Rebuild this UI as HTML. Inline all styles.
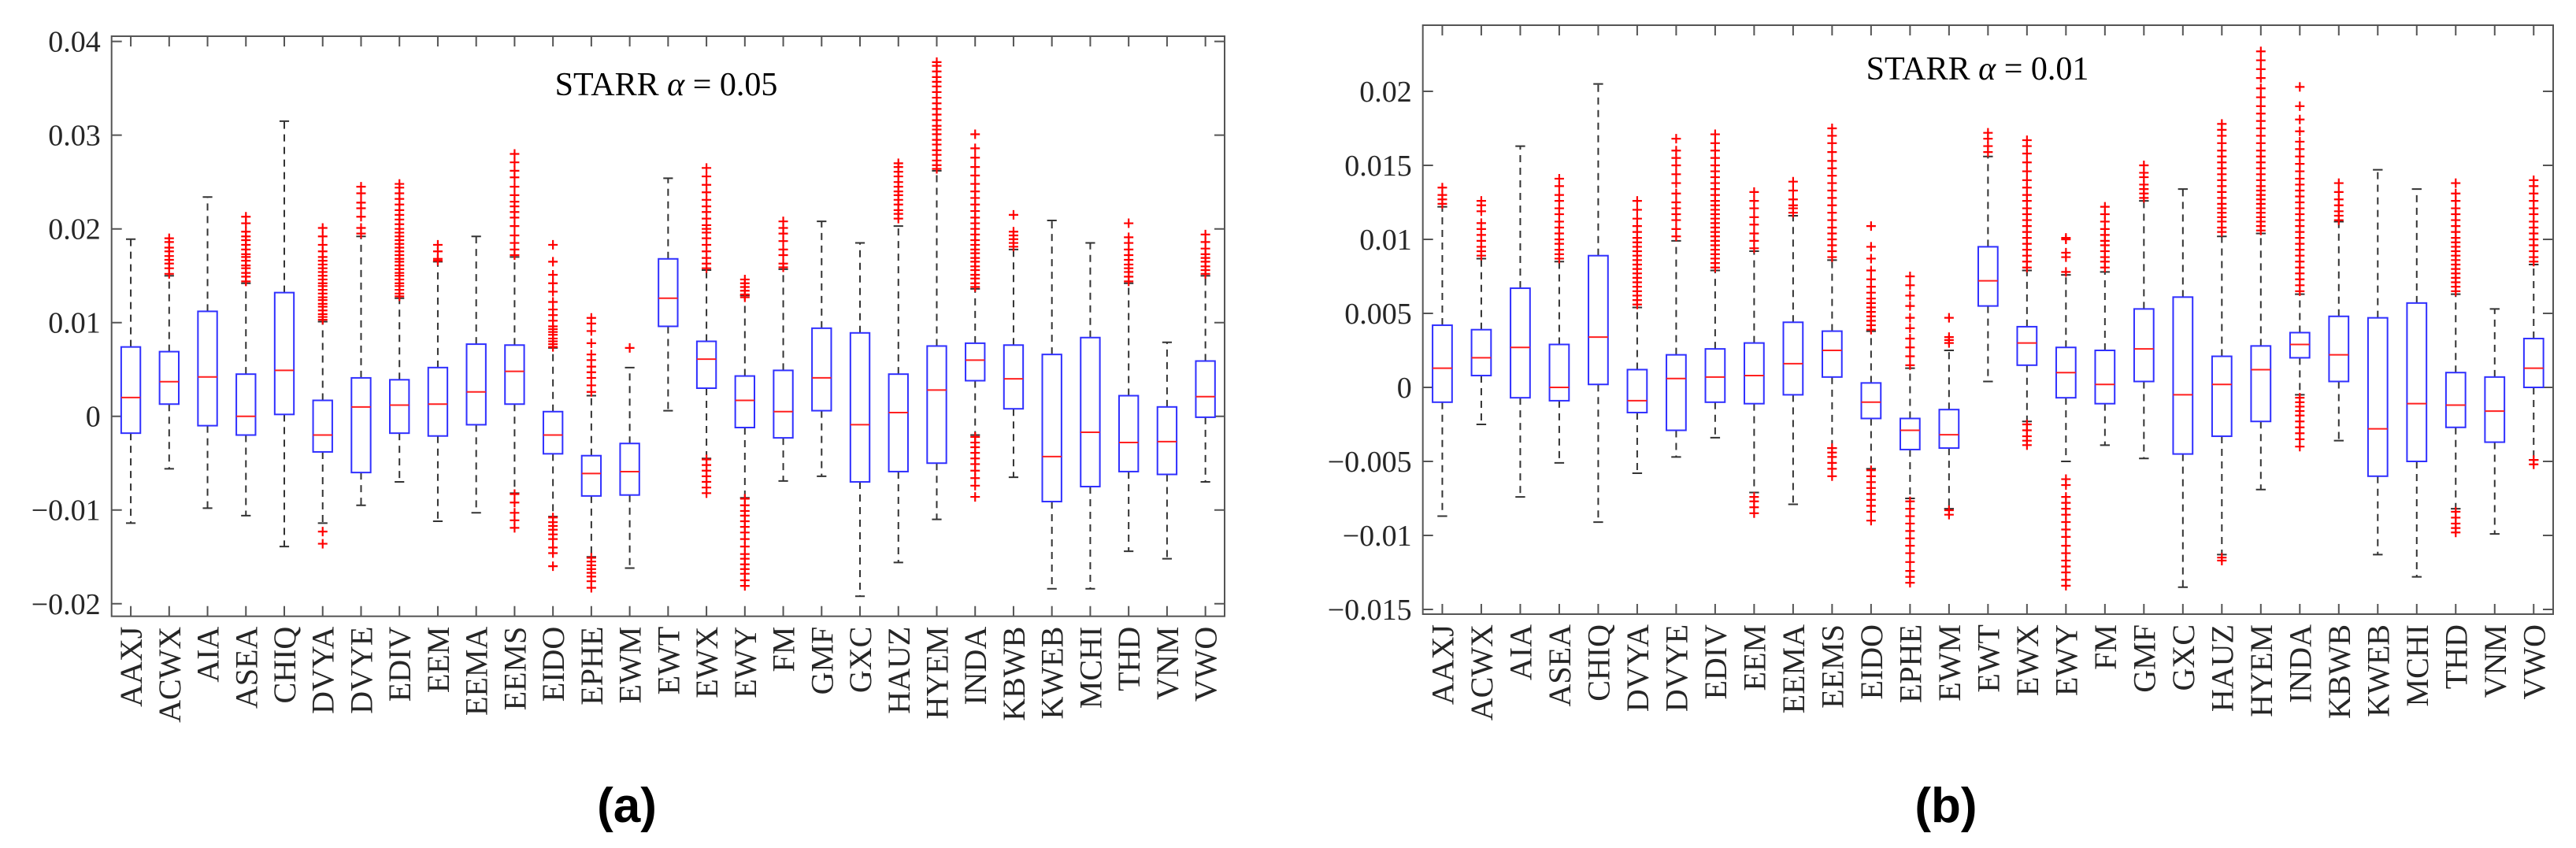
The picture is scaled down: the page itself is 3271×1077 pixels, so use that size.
<!DOCTYPE html>
<html><head><meta charset="utf-8"><style>
html,body{margin:0;padding:0;background:#fff;}
svg{display:block;}
text{font-family:"Liberation Serif",serif;fill:#262626;}
</style></head><body>
<svg id="fig" width="3271" height="1077" viewBox="0 0 3271 1077" xmlns="http://www.w3.org/2000/svg">
<g id="pa"></g>
<g id="pb"></g>
<text x="796" y="1044" font-size="62" font-weight="bold" text-anchor="middle" style="font-family:'Liberation Sans',sans-serif;fill:#000">(a)</text>
<text x="2471" y="1044" font-size="62" font-weight="bold" text-anchor="middle" style="font-family:'Liberation Sans',sans-serif;fill:#000">(b)</text>
</svg>
<script>
const categories=["AAXJ","ACWX","AIA","ASEA","CHIQ","DVYA","DVYE","EDIV","EEM","EEMA","EEMS","EIDO","EPHE","EWM","EWT","EWX","EWY","FM","GMF","GXC","HAUZ","HYEM","INDA","KBWB","KWEB","MCHI","THD","VNM","VWO"];
// Panel A (alpha=0.05)
const aQ1=[-0.0018,0.0013,-0.001,-0.002,0.0002,-0.0038,-0.006,-0.0018,-0.0021,-0.0009,0.0013,-0.004,-0.0085,-0.0084,0.0096,0.003,-0.0012,-0.0023,0.0006,-0.007,-0.0059,-0.005,0.0038,0.0008,-0.0091,-0.0075,-0.0059,-0.0062,-0.0001];
const aMed=[0.002,0.0037,0.0042,0,0.0049,-0.002,0.001,0.0012,0.0013,0.0026,0.0048,-0.002,-0.0061,-0.0059,0.0126,0.0061,0.0017,0.0005,0.0041,-0.0009,0.0004,0.0028,0.006,0.004,-0.0043,-0.0017,-0.0028,-0.0027,0.0021];
const aQ3=[0.0074,0.0069,0.0112,0.0045,0.0132,0.0017,0.0041,0.0039,0.0052,0.0077,0.0076,0.0005,-0.0042,-0.0029,0.0168,0.008,0.0043,0.0049,0.0094,0.0089,0.0045,0.0075,0.0078,0.0076,0.0066,0.0084,0.0022,0.001,0.0059];
const aLo=[-0.0114,-0.0056,-0.0098,-0.0106,-0.0139,-0.0114,-0.0095,-0.007,-0.0112,-0.0103,-0.0082,-0.0107,-0.015,-0.0162,0.0006,-0.0045,-0.0087,-0.0069,-0.0064,-0.0192,-0.0156,-0.011,-0.002,-0.0065,-0.0184,-0.0184,-0.0144,-0.0152,-0.007];
const aHi=[0.0189,0.015,0.0234,0.0142,0.0315,0.0101,0.0192,0.0126,0.0165,0.0192,0.017,0.0073,0.0022,0.0052,0.0254,0.0156,0.0129,0.0157,0.0208,0.0185,0.0203,0.0262,0.0136,0.0178,0.0209,0.0185,0.0142,0.0079,0.015];
const aOut=[[],[0.0152,0.0158,0.0163,0.0167,0.0171,0.0176,0.018,0.0186,0.019],[],[0.0144,0.0149,0.0153,0.0158,0.0161,0.0166,0.017,0.0173,0.0178,0.0183,0.0188,0.0192,0.0197,0.0206,0.0213],[],[0.0103,0.0106,0.0109,0.0113,0.0117,0.012,0.0124,0.0127,0.0131,0.0135,0.0139,0.0142,0.0146,0.015,0.0154,0.0158,0.0162,0.0166,0.017,0.0176,0.0183,0.0192,0.0201,-0.0123,-0.0136],[0.0195,0.0201,0.0213,0.0222,0.0228,0.0238,0.0245],[0.0128,0.0131,0.0135,0.0139,0.0142,0.0146,0.015,0.0153,0.0157,0.0161,0.0165,0.0168,0.0172,0.0176,0.018,0.0184,0.0188,0.0192,0.0196,0.02,0.0205,0.021,0.0215,0.022,0.0226,0.0232,0.0238,0.0244,0.0248],[0.0166,0.0168,0.0176,0.0183],[],[0.0172,0.0178,0.0185,0.0193,0.0203,0.0212,0.0218,0.0224,0.0229,0.0236,0.0245,0.0255,0.0262,0.0271,0.028,-0.0083,-0.0092,-0.0103,-0.0111,-0.0119],[0.0074,0.0077,0.008,0.0083,0.0087,0.009,0.0093,0.0096,0.0102,0.0108,0.0114,0.0122,0.0133,0.0142,0.0151,0.0165,0.0183,-0.0108,-0.0113,-0.0117,-0.0121,-0.0126,-0.0131,-0.014,-0.0146,-0.016],[0.0026,0.0033,0.0041,0.0047,0.0053,0.006,0.0066,0.0078,0.0091,0.0099,0.0105,-0.0151,-0.0155,-0.0159,-0.0163,-0.0167,-0.0171,-0.0176,-0.0183],[0.0073],[],[0.0158,0.0163,0.0169,0.0176,0.0183,0.019,0.0196,0.02,0.0204,0.0211,0.0218,0.0224,0.0231,0.0239,0.0247,0.0256,0.0265,-0.0046,-0.0052,-0.0058,-0.0064,-0.007,-0.0076,-0.0082],[0.0127,0.013,0.0134,0.0138,0.0142,0.0146,-0.0088,-0.0095,-0.0101,-0.0106,-0.0112,-0.0118,-0.0124,-0.0131,-0.0139,-0.0147,-0.0152,-0.0158,-0.0163,-0.0168,-0.0175,-0.0181],[0.0159,0.0163,0.0172,0.0178,0.0187,0.0195,0.0201,0.0208],[],[],[0.0211,0.0216,0.022,0.0226,0.0231,0.0236,0.024,0.0245,0.025,0.0256,0.0261,0.0266,0.027],[0.0264,0.0268,0.0273,0.0279,0.0284,0.029,0.0295,0.0301,0.0306,0.031,0.0316,0.0322,0.0328,0.0334,0.034,0.0346,0.0352,0.0357,0.0362,0.0368,0.0374,0.0378],[0.0138,0.0142,0.0147,0.0151,0.0156,0.016,0.0165,0.0169,0.0174,0.0178,0.0183,0.0188,0.0194,0.02,0.0206,0.0212,0.0219,0.0226,0.0233,0.024,0.0248,0.0257,0.0266,0.0276,0.0286,0.0301,-0.0022,-0.0028,-0.0033,-0.0039,-0.0045,-0.0051,-0.0058,-0.0066,-0.0074,-0.0086],[0.0181,0.0185,0.0189,0.0193,0.0197,0.0215],[],[],[0.0144,0.0149,0.0154,0.0158,0.0162,0.0167,0.0172,0.0178,0.0185,0.0191,0.0206],[],[0.0152,0.0156,0.016,0.0165,0.0169,0.0173,0.0179,0.0186,0.0194]];
// Panel B (alpha=0.01)
const bQ1=[-0.001,0.0008,-0.0007,-0.0009,0.0002,-0.0017,-0.0029,-0.001,-0.0011,-0.0005,0.0007,-0.0021,-0.0042,-0.0041,0.0055,0.0015,-0.0007,-0.0011,0.0004,-0.0045,-0.0033,-0.0023,0.002,0.0004,-0.006,-0.005,-0.0027,-0.0037,0];
const bMed=[0.0013,0.002,0.0027,0,0.0034,-0.0009,0.0006,0.0007,0.0008,0.0016,0.0025,-0.001,-0.0029,-0.0032,0.0072,0.003,0.001,0.0002,0.0026,-0.0005,0.0002,0.0012,0.0029,0.0022,-0.0028,-0.0011,-0.0012,-0.0016,0.0013];
const bQ3=[0.0042,0.0039,0.0067,0.0029,0.0089,0.0012,0.0022,0.0026,0.003,0.0044,0.0038,0.0003,-0.0021,-0.0015,0.0095,0.0041,0.0027,0.0025,0.0053,0.0061,0.0021,0.0028,0.0037,0.0048,0.0047,0.0057,0.001,0.0007,0.0033];
const bLo=[-0.0087,-0.0025,-0.0074,-0.0051,-0.0091,-0.0058,-0.0047,-0.0034,-0.0071,-0.0079,-0.0041,-0.0055,-0.0075,-0.0082,0.0004,-0.0023,-0.005,-0.0039,-0.0048,-0.0135,-0.0113,-0.0069,-0.0005,-0.0036,-0.0113,-0.0128,-0.0082,-0.0099,-0.0049];
const bHi=[0.0122,0.0087,0.0163,0.0085,0.0205,0.0054,0.0099,0.0079,0.0092,0.0116,0.0086,0.0038,0.0013,0.0025,0.0156,0.0079,0.0076,0.0078,0.0126,0.0134,0.0102,0.0104,0.0063,0.0112,0.0147,0.0134,0.0063,0.0053,0.0083];
const bOut=[[0.0124,0.0127,0.013,0.0135],[0.0089,0.0092,0.0095,0.0099,0.0103,0.0107,0.0111,0.0119,0.0123,0.0126],[],[0.0087,0.009,0.0093,0.0097,0.01,0.0104,0.0108,0.0112,0.0117,0.0121,0.0126,0.013,0.0136,0.0141],[],[0.0056,0.0059,0.0062,0.0065,0.0068,0.0071,0.0074,0.0077,0.008,0.0083,0.0086,0.0089,0.0092,0.0095,0.0098,0.0101,0.0105,0.0109,0.0114,0.012,0.0126],[0.0102,0.0107,0.0113,0.0117,0.0121,0.0125,0.0131,0.0138,0.0144,0.015,0.0155,0.016,0.0168],[0.0081,0.0084,0.0087,0.009,0.0093,0.0096,0.0099,0.0102,0.0105,0.0108,0.0111,0.0114,0.0117,0.012,0.0123,0.0126,0.013,0.0134,0.0138,0.0142,0.0146,0.015,0.0155,0.016,0.0165,0.0171],[0.0094,0.0099,0.0104,0.011,0.0115,0.0121,0.0126,0.0132,-0.0074,-0.0077,-0.0081,-0.0085],[0.0118,0.0121,0.0123,0.0127,0.0133,0.0139],[0.0088,0.0092,0.0096,0.01,0.0104,0.0108,0.0113,0.0118,0.0123,0.0128,0.0133,0.0138,0.0143,0.0148,0.0153,0.0159,0.0165,0.017,0.0175,-0.0041,-0.0044,-0.0047,-0.0051,-0.0055,-0.006],[0.0039,0.0042,0.0045,0.0048,0.0051,0.0054,0.0057,0.006,0.0064,0.0068,0.0073,0.0079,0.0087,0.0095,0.0109,-0.0056,-0.006,-0.0064,-0.0068,-0.0072,-0.0076,-0.008,-0.0084,-0.009],[0.0015,0.0021,0.0027,0.0033,0.004,0.0047,0.0055,0.0062,0.0069,0.0075,-0.0077,-0.0082,-0.0087,-0.0092,-0.0097,-0.0102,-0.0107,-0.0112,-0.0118,-0.0124,-0.0128,-0.0132],[0.003,0.0032,0.0034,0.0047,-0.0083,-0.0086],[0.0159,0.0163,0.0168,0.0172],[0.0081,0.0085,0.0089,0.0093,0.0097,0.0101,0.0105,0.0109,0.0113,0.0117,0.0121,0.0126,0.013,0.0135,0.014,0.0146,0.0152,0.0158,0.0163,0.0167,-0.0025,-0.0029,-0.0033,-0.0036,-0.0039],[0.0078,0.0088,0.0091,0.01,0.0101,-0.0062,-0.0066,-0.0074,-0.0078,-0.0082,-0.0086,-0.0091,-0.0096,-0.0101,-0.0107,-0.0112,-0.0117,-0.0121,-0.0125,-0.013,-0.0134],[0.0081,0.0085,0.0088,0.0092,0.0096,0.0099,0.0103,0.0107,0.0112,0.0117,0.0122],[0.0128,0.0131,0.0134,0.0137,0.0142,0.0145,0.015],[],[0.0105,0.0108,0.0112,0.0115,0.0118,0.0121,0.0124,0.0128,0.0132,0.0136,0.014,0.0144,0.0148,0.0152,0.0156,0.016,0.0165,0.017,0.0174,0.0178,-0.0115,-0.0117],[0.0106,0.0109,0.0112,0.0115,0.0118,0.0121,0.0124,0.0127,0.013,0.0133,0.0136,0.014,0.0144,0.0148,0.0152,0.0156,0.016,0.0165,0.017,0.0175,0.018,0.0185,0.019,0.0196,0.0202,0.0209,0.0215,0.0221,0.0227],[0.0065,0.0069,0.0073,0.0077,0.0081,0.0085,0.0089,0.0093,0.0097,0.0101,0.0105,0.0109,0.0113,0.0117,0.0121,0.0125,0.0129,0.0133,0.0137,0.0141,0.0146,0.0151,0.0156,0.0161,0.0166,0.0173,0.0181,0.019,0.0203,-0.0007,-0.001,-0.0013,-0.0016,-0.0019,-0.0023,-0.0027,-0.0031,-0.0035,-0.004],[0.0113,0.0116,0.0119,0.0123,0.0127,0.0132,0.0138],[],[],[0.0065,0.0068,0.0071,0.0074,0.0077,0.008,0.0083,0.0086,0.0089,0.0092,0.0095,0.0098,0.0101,0.0105,0.0109,0.0113,0.0117,0.0121,0.0126,0.0131,0.0138,-0.0084,-0.0088,-0.0092,-0.0095,-0.0098],[],[0.0085,0.0088,0.0092,0.0096,0.01,0.0104,0.0108,0.0112,0.0117,0.0121,0.0126,0.0131,0.0136,0.014,-0.0049,-0.0052]];
const aTicks=[-0.02,-0.01,0,0.01,0.02,0.03,0.04];
const aTickLabels=["\u22120.02","\u22120.01","0","0.01","0.02","0.03","0.04"];
const bTicks=[-0.015,-0.01,-0.005,0,0.005,0.01,0.015,0.02];
const bTickLabels=["\u22120.015","\u22120.01","\u22120.005","0","0.005","0.01","0.015","0.02"];

const NS="http://www.w3.org/2000/svg";
function mk(parent,tag,attrs,txt){const e=document.createElementNS(NS,tag);for(const k in attrs)e.setAttribute(k,attrs[k]);if(txt!==undefined)e.textContent=txt;parent.appendChild(e);return e;}

function panel(gid,P,q1,med,q3,lo,hi,outs,ticks,tickLabels,title){
  const g=document.getElementById(gid);
  const n=categories.length;
  const bw=(P.x1-P.x0)/n;
  const X=i=>P.x0+bw*(i+0.5);
  const Y=v=>P.y1-(v-P.vmin)/(P.vmax-P.vmin)*(P.y1-P.y0);
  const frame=mk(g,'rect',{x:P.x0,y:P.y0,width:P.x1-P.x0,height:P.y1-P.y0,fill:'none',stroke:'#555',"stroke-width":2});
  
  
  ticks.forEach((t,k)=>{
    const y=Y(t);
    const tl=mk(g,'path',{d:`M${P.x0} ${y}h13M${P.x1} ${y}h-13`,stroke:'#555',"stroke-width":2});
    
    
    const lb=mk(g,'text',{x:P.x0-14,y:y+13,"font-size":38,"text-anchor":"end"},tickLabels[k]);
    
    
  });
  for(let i=0;i<n;i++){
    const x=X(i);
    const tk=mk(g,'path',{d:`M${x} ${P.y1}v-13M${x} ${P.y0}v13`,stroke:'#555',"stroke-width":2});
    
    
    const lb=mk(g,'text',{x:0,y:0,"font-size":40,"text-anchor":"end",transform:`translate(${x+14},${P.y1+13}) rotate(-90)`},categories[i]);
    
    
    const w=bw*0.5, cw=w*0.5;
    const wh=mk(g,'path',{d:`M${x} ${Y(q3[i])}V${Y(hi[i])}M${x} ${Y(q1[i])}V${Y(lo[i])}`,stroke:'#333',"stroke-width":2,"stroke-dasharray":"9 7",fill:'none'});
    
    
    const caps=mk(g,'path',{d:`M${x-cw/2} ${Y(hi[i])}h${cw}M${x-cw/2} ${Y(lo[i])}h${cw}`,stroke:'#333',"stroke-width":2});
    
    
    const bx=mk(g,'rect',{x:x-w/2,y:Y(q3[i]),width:w,height:Y(q1[i])-Y(q3[i]),fill:'none',stroke:'#3030ff',"stroke-width":2});
    
    
    const md=mk(g,'line',{x1:x-w/2,x2:x+w/2,y1:Y(med[i]),y2:Y(med[i]),stroke:'#ff2020',"stroke-width":2});
    
    
    outs[i].forEach(v=>{
      const y=Y(v);
      const o=mk(g,'path',{d:`M${x-6} ${y}h12M${x} ${y-6}v12`,stroke:'#ff0000',"stroke-width":2.2});
      
      
    });
  }
  const t=mk(g,'text',{x:title.x,y:title.y,"font-size":42,"text-anchor":"middle",style:"fill:#000"});
  
  
  mk(t,'tspan',{},'STARR ');
  mk(t,'tspan',{"font-style":"italic"},'\u03b1');
  mk(t,'tspan',{},' = '+title.val);
}
panel('pa',{x0:141.7,x1:1555,y0:46,y1:782.7,vmin:-0.02134,vmax:0.04056},aQ1,aMed,aQ3,aLo,aHi,aOut,aTicks,aTickLabels,{x:846,y:121,val:'0.05'});
panel('pb',{x0:1806.7,x1:3242,y0:32,y1:780,vmin:-0.01532,vmax:0.02447},bQ1,bMed,bQ3,bLo,bHi,bOut,bTicks,bTickLabels,{x:2511,y:101,val:'0.01'});
</script>
</body></html>
